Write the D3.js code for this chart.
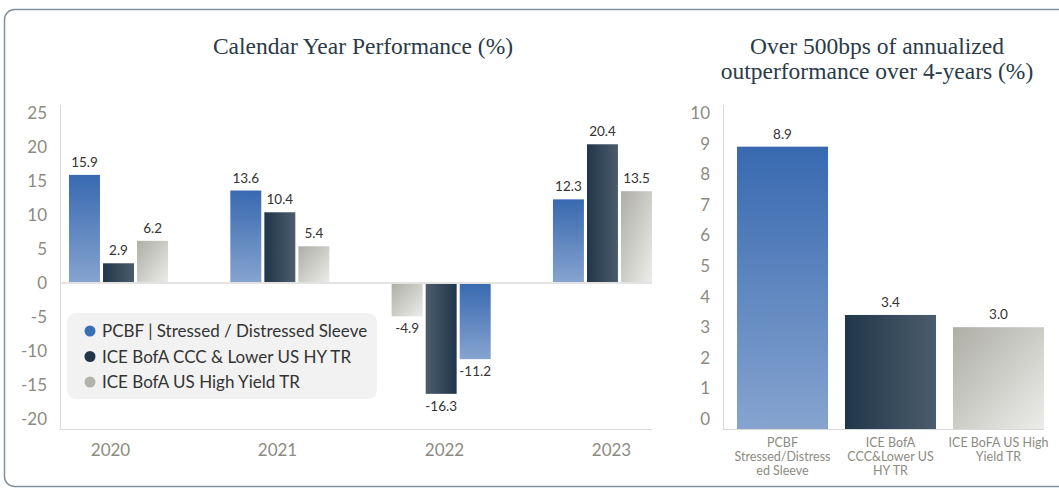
<!DOCTYPE html>
<head>
  <meta charset="utf-8">
  <script src="https://d3js.org/d3.v7.min.js"></script>
  <style>
    body { margin:0; background:#fff; }
  </style>
</head>

<body>
  <svg id="chart" width=1059 height=488></svg>
  <script>
    // ---- data ----
    const years = ["2020", "2021", "2022", "2023"];
    const seriesNames = ["PCBF | Stressed / Distressed Sleeve", "ICE BofA CCC & Lower US HY TR", "ICE BofA US High Yield TR"];
    const pcbf = [15.9, 13.6, -11.2, 12.3];
    const ccc = [2.9, 10.4, -16.3, 20.4];
    const hy = [6.2, 5.4, -4.9, 13.5];
    // bar order inside each year (2022 is drawn in reverse)
    const barOrder = [[0, 1, 2], [0, 1, 2], [2, 1, 0], [0, 1, 2]];
    const leftTicks = [25, 20, 15, 10, 5, 0, -5, -10, -15, -20];

    const annCats = [["PCBF", "Stressed/Distress", "ed Sleeve"], ["ICE BofA", "CCC&Lower US", "HY TR"], ["ICE BoFA US High", "Yield TR"]];
    const annValues = [8.9, 3.4, 3.0];
    const rightTicks = [0, 1, 2, 3, 4, 5, 6, 7, 8, 9, 10];

    const seriesValues = [pcbf, ccc, hy];
    const sans = "Lato, 'Libre Franklin', sans-serif";
    const serif = "'Liberation Serif', serif";
    const tickColor = "#8c8b82";
    const fmt = v => v.toFixed(1);

    const svg = d3.select("#chart");
    const defs = svg.append("defs");

    // gradients per series
    function grad(id, x2, y2, c1, c2, flip) {
      const g = defs.append("linearGradient").attr("id", id)
        .attr("x1", flip ? 1 : 0).attr("y1", 0).attr("x2", flip ? 1 - x2 : x2).attr("y2", y2);
      g.append("stop").attr("offset", "0%").attr("stop-color", c1);
      g.append("stop").attr("offset", "100%").attr("stop-color", c2);
    }
    grad("g0", 0, 1, "#3869b0", "#86a4cf");
    grad("g1", 1, 0, "#21364a", "#4b5d6c");
    grad("g1n", 1, 0, "#21364a", "#4b5d6c", true);
    grad("g2", 1, 1, "#aeaea6", "#ececea");
    const fills = ["url(#g0)", "url(#g1)", "url(#g2)"];
    const legendColors = ["#3a6fb8", "#22364a", "#b3b3ad"];

    // card outline
    svg.append("rect")
      .attr("x", 4.5).attr("y", 9.5).attr("width", 1100).attr("height", 477)
      .attr("rx", 10)
      .attr("fill", "none").attr("stroke", "#83909b").attr("stroke-width", 1.5);

    // ---------- left chart ----------
    const y = d3.scaleLinear().domain([-21.47, 25]).range([429, 113]);
    const x0 = d3.scaleBand().domain(years).range([69, 652]).paddingInner(0.386);
    const x1 = d3.scaleBand().domain([0, 1, 2]).range([0, x0.bandwidth()]).paddingInner(0.09);
    const xLabel = d3.scaleBand().domain(years).range([27, 695]);

    svg.append("text")
      .attr("x", 363).attr("y", 54)
      .attr("text-anchor", "middle")
      .style("font", `23.5px ${serif}`).attr("fill", "#2a3a49")
      .text("Calendar Year Performance (%)");

    const left = svg.append("g");
    left.append("line").attr("x1", 60.5).attr("x2", 60.5).attr("y1", 105).attr("y2", 429)
      .attr("stroke", "#d9d9d9");
    left.append("line").attr("x1", 60).attr("x2", 652).attr("y1", 429.5).attr("y2", 429.5)
      .attr("stroke", "#d9d9d9");

    left.selectAll(".tick").data(leftTicks).join("text")
      .attr("x", 47).attr("y", d => y(d)).attr("dy", "0.35em")
      .attr("text-anchor", "end")
      .style("font", `17px ${sans}`).attr("fill", tickColor)
      .text(d => d);

    left.selectAll(".year").data(years).join("text")
      .attr("x", d => xLabel(d) + xLabel.bandwidth() / 2).attr("y", 456)
      .attr("text-anchor", "middle")
      .style("font", `17px ${sans}`).attr("fill", tickColor)
      .text(d => d);

    const bars = [];
    years.forEach((yr, i) => {
      barOrder[i].forEach((s, pos) => bars.push({ year: yr, s: s, pos: pos, v: seriesValues[s][i] }));
    });

    const bg = left.selectAll(".bar").data(bars).join("g");
    bg.append("rect")
      .attr("x", d => x0(d.year) + x1(d.pos))
      .attr("width", x1.bandwidth())
      .attr("y", d => y(Math.max(0, d.v)))
      .attr("height", d => Math.abs(y(d.v) - y(0)))
      .attr("fill", d => d.s === 1 && d.v < 0 ? "url(#g1n)" : fills[d.s]);
    bg.append("text")
      .attr("x", d => x0(d.year) + x1(d.pos) + x1.bandwidth() / 2)
      .attr("y", d => d.v >= 0 ? y(d.v) - 8 : y(d.v) + 17)
      .attr("text-anchor", "middle")
      .style("font", `13.5px ${sans}`).attr("fill", "#333")
      .text(d => fmt(d.v));

    // zero line
    left.append("line").attr("x1", 60).attr("x2", 652).attr("y1", y(0)).attr("y2", y(0))
      .attr("stroke", "#e3e3e3").attr("stroke-width", 2);

    // legend
    const lg = left.append("g");
    lg.append("rect").attr("x", 67).attr("y", 313).attr("width", 310).attr("height", 86)
      .attr("rx", 9).attr("fill", "#f2f2f2");
    const li = lg.selectAll(".li").data(seriesNames).join("g")
      .attr("transform", (d, i) => `translate(90,${331 + i * 25.5})`);
    li.append("circle").attr("r", 5.5).attr("fill", (d, i) => legendColors[i]);
    li.append("text").attr("x", 12).attr("dy", "0.36em")
      .style("font", `17px ${sans}`).attr("fill", "#333")
      .text(d => d);

    // ---------- right chart ----------
    const yr = d3.scaleLinear().domain([-0.327, 10]).range([429, 113]);
    const xr = d3.scaleBand().domain([0, 1, 2]).range([737, 1044]).paddingInner(0.157).paddingOuter(0);

    const title2 = svg.append("text")
      .attr("text-anchor", "middle")
      .style("font", `23.5px ${serif}`).attr("fill", "#2a3a49");
    title2.append("tspan").attr("x", 877).attr("y", 54).text("Over 500bps of annualized");
    title2.append("tspan").attr("x", 877).attr("y", 79).text("outperformance over 4-years (%)");

    const right = svg.append("g");
    right.append("line").attr("x1", 723.5).attr("x2", 723.5).attr("y1", 105).attr("y2", 429)
      .attr("stroke", "#d9d9d9");
    right.append("line").attr("x1", 723).attr("x2", 1044).attr("y1", 429.5).attr("y2", 429.5)
      .attr("stroke", "#d9d9d9");

    right.selectAll(".tick").data(rightTicks).join("text")
      .attr("x", 710).attr("y", d => yr(d)).attr("dy", "0.35em")
      .attr("text-anchor", "end")
      .style("font", `17px ${sans}`).attr("fill", tickColor)
      .text(d => d);

    const rb = right.selectAll(".rbar").data(annValues).join("g");
    rb.append("rect")
      .attr("x", (d, i) => xr(i))
      .attr("width", xr.bandwidth())
      .attr("y", d => yr(d))
      .attr("height", d => yr.range()[0] - yr(d))
      .attr("fill", (d, i) => fills[i]);
    rb.append("text")
      .attr("x", (d, i) => xr(i) + xr.bandwidth() / 2)
      .attr("y", d => yr(d) - 8)
      .attr("text-anchor", "middle")
      .style("font", `13.5px ${sans}`).attr("fill", "#333")
      .text(d => fmt(d));

    right.selectAll(".cat").data(annCats).join("text")
      .attr("text-anchor", "middle")
      .style("font", `12.5px ${sans}`).attr("fill", tickColor)
      .selectAll("tspan")
      .data((d, i) => d.map(t => ({ t: t, i: i })))
      .join("tspan")
      .attr("x", d => xr(d.i) + xr.bandwidth() / 2)
      .attr("y", (d, j) => 447 + j * 14)
      .text(d => d.t);
  </script>
</body>
